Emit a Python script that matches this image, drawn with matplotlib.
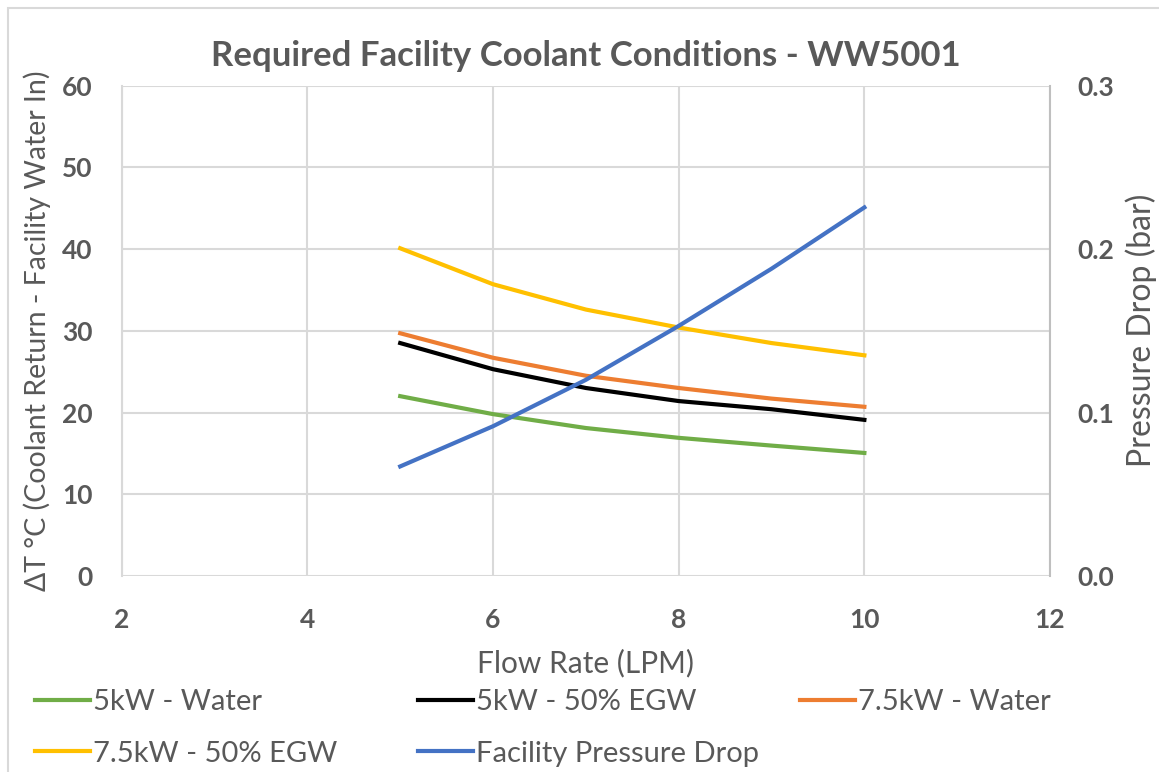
import matplotlib.pyplot as plt
from matplotlib.patches import Rectangle

plt.rcParams['font.family'] = ['Lato', 'DejaVu Sans']

flow = [5, 6, 7, 8, 9, 10]
kw5_water = [22.0, 19.8, 18.1, 16.9, 15.95, 15.05]
kw5_egw = [28.5, 25.3, 23.0, 21.4, 20.4, 19.1]
kw75_water = [29.7, 26.7, 24.5, 23.0, 21.7, 20.7]
kw75_egw = [40.1, 35.7, 32.6, 30.4, 28.5, 27.0]
pressure = [0.067, 0.0916, 0.120, 0.153, 0.188, 0.2255]

grey = "#595959"
grid = "#d9d9d9"

fig = plt.figure(figsize=(11.59, 7.72), dpi=100)
ax = fig.add_axes([0.105, 0.254, 0.801, 0.635])
ax2 = ax.twinx()

l1, = ax.plot(flow, kw5_water, color="#70ad47", lw=3, label="5kW - Water")
l2, = ax.plot(flow, kw5_egw, color="black", lw=3, label="5kW - 50% EGW")
l3, = ax.plot(flow, kw75_water, color="#ed7d31", lw=3, label="7.5kW - Water")
l4, = ax.plot(flow, kw75_egw, color="#ffc000", lw=3, label="7.5kW - 50% EGW")
l5, = ax2.plot(flow, pressure, color="#4472c4", lw=3, label="Facility Pressure Drop")

ax.set_xlim(2, 12)
ax.set_ylim(0, 60)
ax2.set_ylim(0, 0.3)
ax.set_xticks(range(2, 13, 2))
ax.set_yticks(range(0, 61, 10))
ax2.set_yticks([0.0, 0.1, 0.2, 0.3])
ax2.set_yticklabels(["0.0", "0.1", "0.2", "0.3"])

ax.grid(True, color=grid, lw=1.5)
ax.set_axisbelow(True)
for a in (ax, ax2):
    for s in a.spines.values():
        s.set_visible(False)
    a.tick_params(length=0, colors=grey, labelsize=19)
    for t in a.get_xticklabels() + a.get_yticklabels():
        t.set_fontweight("bold")
ax.tick_params(axis="x", pad=23)
ax.tick_params(axis="y", pad=21)
ax2.tick_params(axis="y", pad=20)
ax.spines["left"].set_visible(True)
ax.spines["left"].set_color(grid)
ax.spines["left"].set_linewidth(1.5)
ax2.spines["right"].set_visible(True)
ax2.spines["right"].set_color("#bfbfbf")
ax2.spines["right"].set_linewidth(1.5)

ax.set_title("Required Facility Coolant Conditions - WW5001", fontsize=25,
             fontweight="bold", color=grey, pad=14)
ax.set_xlabel("Flow Rate (LPM)", fontsize=21.5, color=grey, labelpad=12)
ax.set_ylabel("\u0394T \u00b0C (Coolant Return - Facility Water In)", fontsize=20.5,
              color=grey, labelpad=8)
ax2.set_ylabel("Pressure Drop (bar)", fontsize=23, color=grey, labelpad=8)

# one legend per column so the columns sit where the reference puts them
columns = [([l1, l4], 35), ([l2, l5], 418), ([l3], 800)]
for hs, xpx in columns:
    fig.legend(hs, [h.get_label() for h in hs], loc="upper left",
               bbox_to_anchor=(xpx / 1159, 1 - 689 / 772), frameon=False,
               fontsize=21, labelcolor=grey, handlelength=1.9, handletextpad=0.08,
               labelspacing=0.88, borderaxespad=0, borderpad=0)

fig.patches.append(Rectangle((8 / 1159, -0.01), 1.0, 1.01 - 8 / 772,
                             transform=fig.transFigure, fill=False,
                             edgecolor=grid, lw=1.5))

fig.savefig("out.png", dpi=100)
